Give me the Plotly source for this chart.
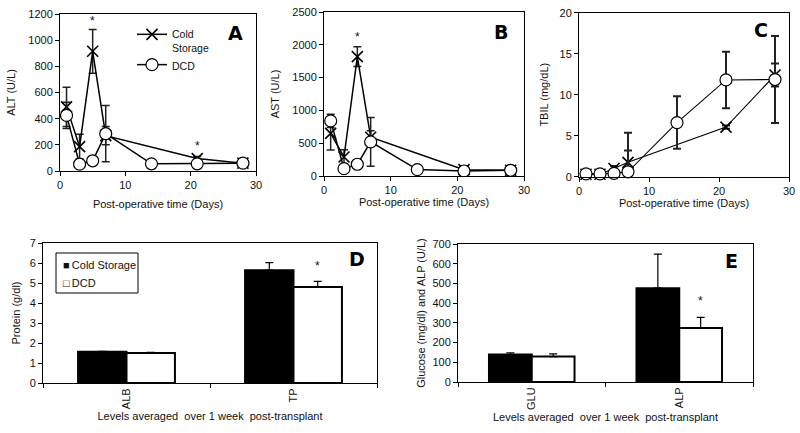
import plotly.graph_objects as go

# ---------------- data ----------------
cs_days = [1, 3, 5, 7, 21, 28]
dcd_days = [1, 3, 5, 7, 14, 21, 28]

alt_cs = [490, 186, 915, 270, 95, 60]
alt_cs_err = [150, 95, 167, 70, 15, 12]
alt_dcd = [425, 52, 78, 285, 55, 55, 60]
alt_dcd_err = [100, 10, 10, 215, 8, 8, 10]

ast_cs = [650, 290, 1820, 590, 97, 87]
ast_cs_err = [255, 110, 150, 100, 20, 20]
ast_dcd = [840, 113, 179, 520, 98, 76, 87]
ast_dcd_err = [100, 20, 60, 370, 15, 15, 20]

tbil_cs = [0.3, 0.3, 1.0, 1.75, 6.05, 12.4]
tbil_cs_err = [0.2, 0.1, 0.3, 3.6, 0.2, 1.4]
tbil_dcd = [0.35, 0.35, 0.4, 0.6, 6.6, 11.8, 11.85]
tbil_dcd_err = [0.1, 0.1, 0.1, 2.6, 3.2, 3.45, 5.3]

prot_cats = ["ALB", "TP"]
prot_cs = [1.56, 5.64]
prot_cs_err = [0.02, 0.38]
prot_dcd = [1.50, 4.80]
prot_dcd_err = [0.03, 0.28]

glu_cats = ["GLU", "ALP"]
glu_cs = [139, 476]
glu_cs_err = [9, 173]
glu_dcd = [129, 274]
glu_dcd_err = [14, 54]

series_names = ["Cold Storage", "DCD"]

W, H = 800, 433
FONT = "Liberation Sans, Arial, sans-serif"

fig = go.Figure()


def px_x(a, b):
    return [a / W, b / W]


def px_y(top, bottom):
    return [1 - bottom / H, 1 - top / H]


def line_pair(days_cs, ycs, ecs, days_d, yd, ed, xa, ya, legend, clip=True, lw=1.5, ew=1.5):
    fig.add_trace(go.Scatter(
        x=days_cs, y=ycs, name="Cold<br>Storage", mode="lines+markers",
        line=dict(color="black", width=lw),
        marker=dict(symbol="x-thin", size=11, line=dict(color="black", width=1.6)),
        error_y=dict(type="data", array=ecs, color="#222", thickness=ew, width=4),
        xaxis=xa, yaxis=ya, showlegend=legend, cliponaxis=clip))
    fig.add_trace(go.Scatter(
        x=days_d, y=yd, name="DCD", mode="lines+markers",
        line=dict(color="black", width=lw),
        marker=dict(symbol="circle", size=12, color="white", line=dict(color="black", width=1.2)),
        error_y=dict(type="data", array=ed, color="#222", thickness=ew, width=4),
        xaxis=xa, yaxis=ya, showlegend=legend, cliponaxis=clip))


line_pair(cs_days, alt_cs, alt_cs_err, dcd_days, alt_dcd, alt_dcd_err, "x", "y", True)
line_pair(cs_days, ast_cs, ast_cs_err, dcd_days, ast_dcd, ast_dcd_err, "x2", "y2", False)
line_pair(cs_days, tbil_cs, tbil_cs_err, dcd_days, tbil_dcd, tbil_dcd_err, "x3", "y3", False,
          clip=False, lw=1.1, ew=2)

for cats, cs, cse, dcd, dcde, xa, ya in [
    (prot_cats, prot_cs, prot_cs_err, prot_dcd, prot_dcd_err, "x4", "y4"),
    (glu_cats, glu_cs, glu_cs_err, glu_dcd, glu_dcd_err, "x5", "y5"),
]:
    fig.add_trace(go.Bar(
        x=cats, y=cs, name=series_names[0], marker=dict(color="black", line=dict(color="black", width=2)),
        error_y=dict(type="data", array=cse, arrayminus=[0, 0], symmetric=False,
                     color="black", thickness=1.2, width=4),
        xaxis=xa, yaxis=ya, showlegend=False))
    fig.add_trace(go.Bar(
        x=cats, y=dcd, name=series_names[1], marker=dict(color="white", line=dict(color="black", width=2)),
        error_y=dict(type="data", array=dcde, arrayminus=[0, 0], symmetric=False,
                     color="black", thickness=1.2, width=4),
        xaxis=xa, yaxis=ya, showlegend=False))

axis_common = dict(showline=True, linecolor="black", linewidth=1, mirror=True, automargin=False,
                   ticks="outside", ticklen=4, tickcolor="black", showgrid=False,
                   zeroline=False, tickfont=dict(size=11, color="#111", family=FONT))
title_font = dict(size=11, color="#111", family=FONT)


def xaxis_num(dom, title, standoff):
    return dict(axis_common, domain=dom, range=[0, 30], dtick=10,
                title=dict(text=title, font=title_font, standoff=standoff))


def yaxis_num(dom, anchor, rng, dt, title, standoff):
    return dict(axis_common, domain=dom, anchor=anchor, range=rng, dtick=dt,
                title=dict(text=title, font=title_font, standoff=standoff))


fig.update_layout(
    width=W, height=H, margin=dict(l=0, r=0, t=0, b=0, autoexpand=False),
    paper_bgcolor="white", plot_bgcolor="white",
    font=dict(family=FONT, size=11, color="#111"),
    barmode="group", bargap=0.42, bargroupgap=0,
    xaxis=dict(xaxis_num(px_x(60, 256), "Post-operative time (Days)", 10), anchor="y"),
    yaxis=yaxis_num(px_y(14, 171), "x", [0, 1200], 200, "ALT (U/L)", 10),
    xaxis2=dict(xaxis_num(px_x(324, 524), "Post-operative time (Days)", 3), anchor="y2"),
    yaxis2=yaxis_num(px_y(12, 176), "x2", [0, 2500], 500, "AST (U/L)", 10),
    xaxis3=dict(xaxis_num(px_x(579, 789), "Post-operative time (Days)", 0), anchor="y3"),
    yaxis3=yaxis_num(px_y(12.7, 176.7), "x3", [0, 20], 5, "TBIL (mg/dL)", 8),
    xaxis4=dict(axis_common, domain=px_x(43, 377), anchor="y4", type="category",
                tickson="boundaries", tickangle=-90,
                title=dict(text="Levels averaged  over 1 week  post-transplant", font=title_font, standoff=4)),
    yaxis4=yaxis_num(px_y(243, 383), "x4", [0, 7], 1, "Protein (g/dl)", 6),
    xaxis5=dict(axis_common, domain=px_x(458, 753), anchor="y5", type="category",
                tickson="boundaries", tickangle=-90,
                title=dict(text="Levels averaged  over 1 week  post-transplant", font=title_font, standoff=4)),
    yaxis5=yaxis_num(px_y(244, 382), "x5", [0, 700], 100, "Glucose (mg/dl) and ALP (U/L)", 4),
    legend=dict(x=132 / W, y=1 - 21 / H, xanchor="left", yanchor="top",
                bgcolor="rgba(0,0,0,0)", borderwidth=0, valign="top",
                itemwidth=30, tracegroupgap=0, font=dict(size=10.5, family=FONT, color="#111")),
)

# bar-chart legend box (panel D)
fig.add_shape(type="rect", xref="paper", yref="paper",
              x0=56 / W, x1=138 / W, y0=1 - 293 / H, y1=1 - 253 / H,
              line=dict(color="black", width=1), fillcolor="white", layer="above")
for i, (sym, name) in enumerate(zip(["■", "□"], series_names)):
    fig.add_annotation(text=f"{sym}&#8201;{name}", x=61 / W, y=1 - (265 + 18 * i) / H,
                       xref="paper", yref="paper", xanchor="left", yanchor="middle",
                       showarrow=False, font=dict(size=11, family=FONT, color="#111"))

letters = [("A", 235, 33), ("B", 501, 32), ("C", 761, 30), ("D", 357, 259), ("E", 731, 261)]
for t, xp, yp in letters:
    fig.add_annotation(text=t, x=xp / W, y=1 - yp / H, xref="paper", yref="paper",
                       showarrow=False,
                       font=dict(size=19, family="DejaVu Sans", color="black", weight="bold"),
                       xanchor="center", yanchor="middle")

stars = [("x", "y", 5, 1150), ("x", "y", 21, 190), ("x2", "y2", 5, 2120)]
for xa, ya, xv, yv in stars:
    fig.add_annotation(text="*", x=xv, y=yv, xref=xa, yref=ya, showarrow=False,
                       font=dict(size=12, family=FONT, color="#111"))
fig.add_annotation(text="*", x="TP", y=5.85, xref="x4", yref="y4", xshift=24, showarrow=False,
                   font=dict(size=12, family=FONT, color="#111"))
fig.add_annotation(text="*", x="ALP", y=410, xref="x5", yref="y5", xshift=21, showarrow=False,
                   font=dict(size=12, family=FONT, color="#111"))

fig.write_html("out.html", config={"displayModeBar": False},
               post_script="document.body.style.margin='0';document.body.style.overflow='hidden';")
